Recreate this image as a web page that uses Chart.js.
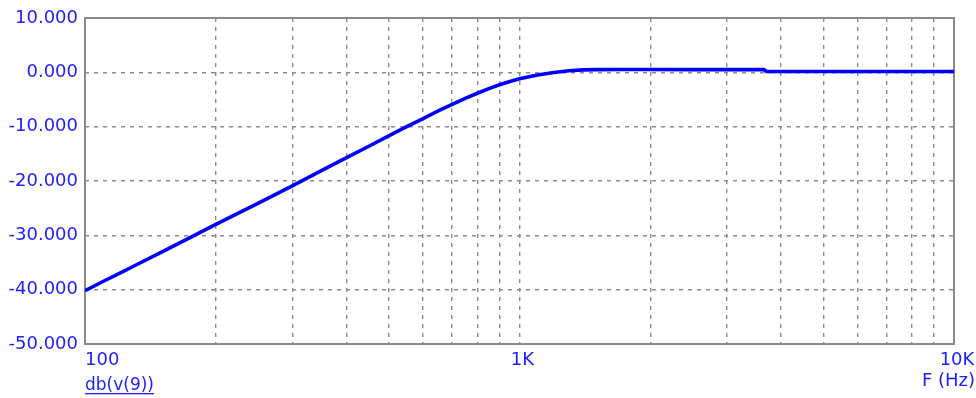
<!DOCTYPE html>
<html><head><meta charset="utf-8">
<script src="https://cdn.jsdelivr.net/npm/chart.js@4/dist/chart.umd.min.js"></script>
<style>html,body{margin:0;padding:0;background:#fff;}#wrap{position:relative;width:976px;height:398px;}</style>
</head><body><div id="wrap"><canvas id="c" width="976" height="398"></canvas></div>
<script>
const freqHz = [100, 110, 120, 130, 150, 170, 200, 250, 300, 350, 400, 450, 500, 550, 600, 650, 700, 750, 800, 850, 900, 950, 1000, 1100, 1200, 1300, 1400, 1500, 1700, 2000, 2500, 3000, 3650, 3700, 4000, 5000, 7000, 10000];
const gainDb = [-40.2, -38.5, -37.0, -35.6, -33.1, -30.9, -28.0, -24.1, -20.9, -18.1, -15.7, -13.6, -11.7, -10.0, -8.5, -7.1, -5.9, -4.8, -3.85, -3.0, -2.3, -1.7, -1.2, -0.5, -0.02, 0.28, 0.45, 0.5, 0.52, 0.52, 0.5, 0.5, 0.5, 0.15, 0.15, 0.15, 0.15, 0.15];
const yTickValues = [10, 0, -10, -20, -30, -40, -50];
const xGridValues = [100, 200, 300, 400, 500, 600, 700, 800, 900, 1000, 2000, 3000, 4000, 5000, 6000, 7000, 8000, 9000, 10000];
const xLabelValues = [100, 1000, 10000];
const xLabelTexts = ['100', '1K', '10K'];
const yAxisName = 'db(v(9))';
const xAxisName = 'F (Hz)';

const TXT = '#2020ff';
const FONT = 'DejaVu Sans';
const GRID = '#8c8c8c';

const overlay = {
  id: 'overlay',
  beforeDatasetsDraw(chart) {
    const {ctx, chartArea: a} = chart;
    ctx.save();
    ctx.strokeStyle = '#8a8a8a';
    ctx.lineWidth = 2;
    ctx.strokeRect(a.left, a.top, a.right - a.left, a.bottom - a.top);
    ctx.restore();
  },
  afterDraw(chart) {
    const {ctx, chartArea: a} = chart;
    const xs = chart.scales.x;
    ctx.save();
    ctx.fillStyle = TXT;
    ctx.font = '18px "' + FONT + '"';
    ctx.textBaseline = 'alphabetic';
    xLabelValues.forEach((v, i) => {
      const px = xs.getPixelForValue(v);
      if (i === 0) { ctx.textAlign = 'left'; ctx.fillText(xLabelTexts[i], px, 365); }
      else { ctx.textAlign = 'center'; ctx.fillText(xLabelTexts[i], px + 3, 365); }
    });
    ctx.textAlign = 'right';
    ctx.fillText(xAxisName, 975, 386);
    ctx.font = '17px "' + FONT + '"';
    ctx.textAlign = 'left';
    ctx.fillText(yAxisName, a.left, 390);
    const w = ctx.measureText(yAxisName).width;
    ctx.fillRect(a.left, 393, w, 1.3);
    ctx.restore();
  }
};

new Chart(document.getElementById('c'), {
  type: 'line',
  data: {
    datasets: [{
      data: freqHz.map((f, i) => ({x: f, y: gainDb[i]})),
      borderColor: '#0000ff',
      borderWidth: 3.6,
      pointRadius: 0,
      tension: 0,
      fill: false
    }]
  },
  options: {
    responsive: false,
    animation: false,
    devicePixelRatio: 1,
    layout: {padding: {left: 0, right: 22, top: 18, bottom: 0}},
    plugins: {legend: {display: false}, tooltip: {enabled: false}},
    scales: {
      x: {
        type: 'logarithmic',
        min: 100, max: 10000,
        afterBuildTicks: axis => { axis.ticks = xGridValues.map(v => ({value: v})); },
        afterFit: axis => { axis.height = 54; },
        ticks: {display: false, autoSkip: false},
        grid: {color: GRID, lineWidth: 1.4, drawTicks: false, borderDash: [4, 5]},
        border: {display: false, dash: [4, 5]}
      },
      y: {
        type: 'linear',
        min: -50, max: 10,
        afterBuildTicks: axis => { axis.ticks = yTickValues.map(v => ({value: v})); },
        afterFit: axis => { axis.width = 85; },
        ticks: {
          autoSkip: false,
          padding: 7,
          color: TXT,
          font: {family: FONT, size: 18},
          callback: v => Number(v).toFixed(3)
        },
        grid: {color: GRID, lineWidth: 1.4, drawTicks: false, borderDash: [4, 5]},
        border: {display: false, dash: [4, 5]}
      }
    }
  },
  plugins: [overlay]
});
</script></body></html>
